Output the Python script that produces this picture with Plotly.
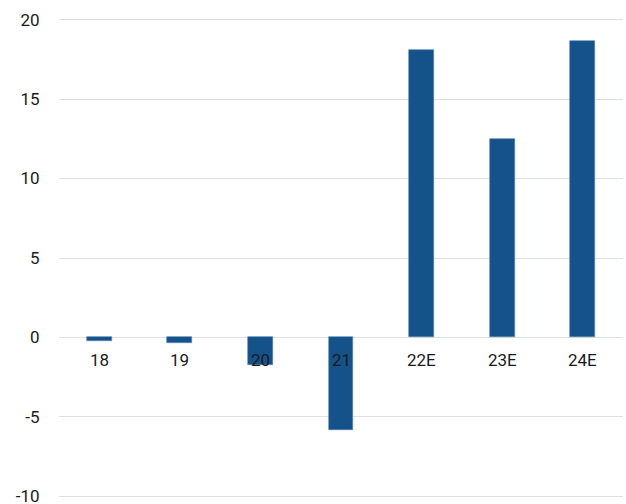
import plotly.graph_objects as go

categories = ["18", "19", "20", "21", "22E", "23E", "24E"]
values = [-0.2, -0.37, -1.75, -5.8, 18.08, 12.48, 18.65]
y_ticks = [-10, -5, 0, 5, 10, 15, 20]

fig = go.Figure()
fig.add_trace(go.Bar(
    x=categories, y=values, width=0.31,
    marker=dict(color="#15528a", line=dict(color="#4f7fb0", width=0.6)),
))

for i, c in enumerate(categories):
    fig.add_annotation(x=i, y=0, xref="x", yref="y", text=c, showarrow=False,
                       yanchor="top", yshift=-11,
                       font=dict(family="Roboto", size=17, color="#1a1a1a"))

fig.update_layout(
    width=626, height=504,
    margin=dict(l=59, r=3, t=18, b=6),
    paper_bgcolor="white", plot_bgcolor="white",
    showlegend=False,
    font=dict(family="Roboto", size=17, color="#1a1a1a"),
    bargap=0,
)
fig.update_xaxes(type="category", range=[-0.5, 6.5], showticklabels=False, showgrid=False,
                 zeroline=False, showline=False, ticks="", automargin=False)
fig.update_yaxes(range=[-10.1, 20.1], tickvals=y_ticks, ticktext=[str(v) for v in y_ticks],
                 showgrid=True, gridcolor="#e0e0e0", gridwidth=1,
                 zeroline=True, zerolinecolor="#e0e0e0", zerolinewidth=1,
                 showline=False, ticks="outside", ticklen=15, tickcolor="rgba(0,0,0,0)",
                 automargin=False, ticklabeloverflow="allow",
                 tickfont=dict(family="Roboto", size=17, color="#1a1a1a"))

fig.write_html("out.html", config={"displayModeBar": False},
               post_script="document.body.style.margin='0px';")
